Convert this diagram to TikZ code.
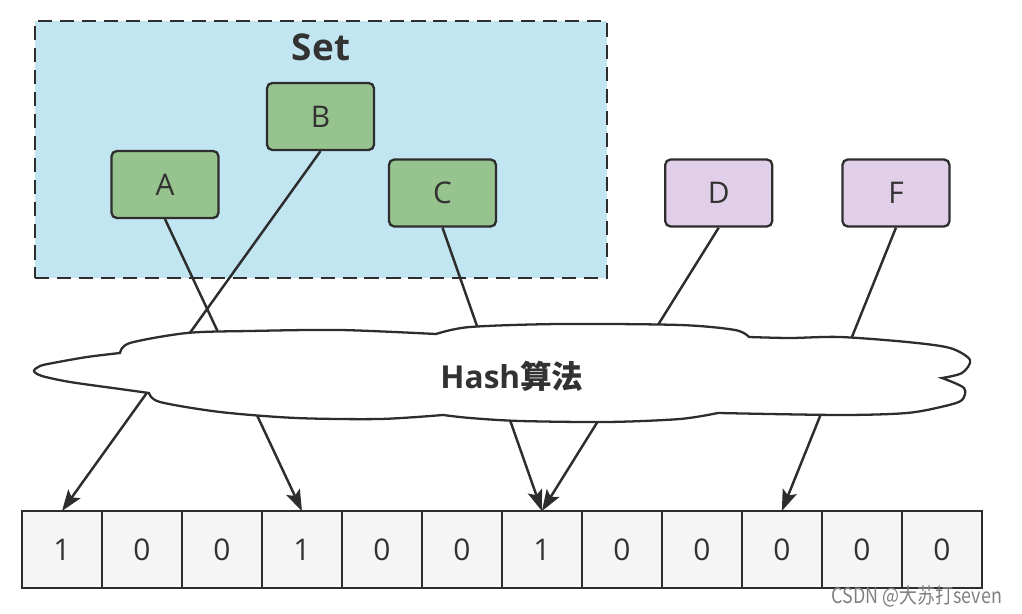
\documentclass[tikz,border=0pt]{standalone}
\usepackage{fontspec}
\setmainfont{Open Sans}
\newfontfamily\cjk{Noto Sans CJK SC}
\usetikzlibrary{positioning, arrows.meta}

\definecolor{setblue}{RGB}{193,229,241}
\definecolor{keygreen}{RGB}{151,196,142}
\definecolor{keylilac}{RGB}{225,206,232}
\definecolor{bitgray}{RGB}{245,245,245}
\definecolor{edgegray}{RGB}{45,45,45}
\definecolor{inkgray}{RGB}{50,50,50}

\tikzset{
	key/.style={draw=edgegray, line width=1.3pt, rounded corners=3pt, minimum width=2.14cm, minimum height=1.34cm, inner sep=0pt, text=inkgray, font={\fontsize{17}{20}\selectfont}},
	inkey/.style={key, fill=keygreen},
	outkey/.style={key, fill=keylilac},
	bit/.style={draw=edgegray, line width=1.1pt, fill=bitgray, minimum width=1.6cm, minimum height=1.54cm, inner sep=0pt, outer sep=0pt, text=inkgray, font={\fontsize{17}{20}\selectfont}},
	hasharrow/.style={draw=edgegray, line width=1.4pt, -{Stealth[length=12pt, width=8.5pt, inset=2.5pt]}},
}

\begin{document}
\begin{tikzpicture}[x=0.02cm, y=-0.02cm]
	\useasboundingbox (0,0) rectangle (1022,614);
	% the set
	\node[draw=edgegray, fill=setblue, line width=1.4pt, dash pattern=on 8pt off 4.5pt, minimum width=11.44cm, minimum height=5.14cm] (setbox) at (321,149.5) {};
	\node[text=inkgray, font={\fontsize{21}{24}\selectfont\bfseries}] (settitle) at (321,47) {Set};
	\node[inkey] (A) at (165,184.5) {A};
	\node[inkey] (B) at (320.5,116.5) {B};
	\node[inkey] (C) at (442.5,193) {C};
	\node[outkey, right=3.34cm of C] (D) {D};
	\node[outkey, right=1.36cm of D] (F) {F};
	% bit array
	\node[bit] (c1) at (62,549.5) {1};
	\node[bit, right=0pt of c1] (c2) {0};
	\node[bit, right=0pt of c2] (c3) {0};
	\node[bit, right=0pt of c3] (c4) {1};
	\node[bit, right=0pt of c4] (c5) {0};
	\node[bit, right=0pt of c5] (c6) {0};
	\node[bit, right=0pt of c6] (c7) {1};
	\node[bit, right=0pt of c7] (c8) {0};
	\node[bit, right=0pt of c8] (c9) {0};
	\node[bit, right=0pt of c9] (c10) {0};
	\node[bit, right=0pt of c10] (c11) {0};
	\node[bit, right=0pt of c11] (c12) {0};
	% hash lines
	\draw[hasharrow] (A.south) -- (c4.north);
	\draw[hasharrow] (B.south) -- (c1.north);
	\draw[hasharrow] (C.south) -- (c7.north);
	\draw[hasharrow] (D.south) -- (c7.north);
	\draw[hasharrow] (F.south) -- (c10.north);
	% cloud
	\filldraw[fill=white, draw=edgegray, line width=1.3pt]
		plot[smooth] coordinates {(120,353) (130,343) (187,333) (250,331) (340,330) (436,334)}
		-- plot[smooth] coordinates {(436,334) (470,327) (560,324) (680,325) (735,330) (749,337)}
		-- plot[smooth] coordinates {(749,337) (790,338) (840,337) (907,342) (950,348) (970,360) (962,373) (942,378)}
		-- plot[smooth] coordinates {(942,378) (964,388) (962,400) (945,406) (907,413) (840,415) (718,413)}
		-- plot[smooth] coordinates {(718,413) (680,419) (608,422) (520,421) (470,418) (443,415)}
		-- plot[smooth] coordinates {(443,415) (380,419) (296,418) (220,412) (160,402) (149,393)}
		-- plot[smooth] coordinates {(149,393) (120,389) (70,382) (42,376) (34,371) (40,366) (53,363) (87,357) (120,353)}
		-- cycle;
	\node[text=inkgray, font={\fontsize{18}{20}\selectfont\bfseries}] (hash) at (512,376) {Hash{\cjk 算法}};
	\node[text=gray, xscale=0.85, font={\fontsize{12}{13}\selectfont\cjk}] (mark) at (917,596) {CSDN @大苏打seven};
\end{tikzpicture}
\end{document}
